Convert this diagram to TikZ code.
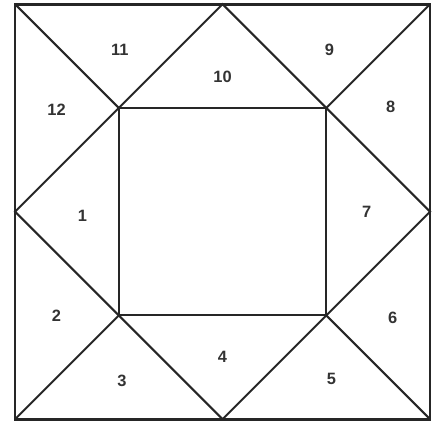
\documentclass[tikz,border=0pt]{standalone}
\usepackage{tikz}
\usepackage{fontspec}
\setsansfont{Liberation Sans}
\usetikzlibrary{calc}

\begin{document}
\begin{tikzpicture}[x=2cm,y=2cm,
    edge/.style={line width=1.1pt, black!85},
    frame/.style={line width=1.5pt, black!85},
    piece/.style={font=\sffamily\bfseries\small, black!80}]
    \useasboundingbox (-0.145,-0.03) rectangle (4.115,4.04);

    % Corners of the outer square and the inner square
    \coordinate (oBL) at (0,0);
    \coordinate (oBR) at (4,0);
    \coordinate (oTR) at (4,4);
    \coordinate (oTL) at (0,4);
    \coordinate (iBL) at (1,1);
    \coordinate (iBR) at (3,1);
    \coordinate (iTR) at (3,3);
    \coordinate (iTL) at (1,3);

    % Midpoints of the outer sides
    \coordinate (mB) at (2,0);
    \coordinate (mR) at (4,2);
    \coordinate (mT) at (2,4);
    \coordinate (mL) at (0,2);

    % Outer frame and centre square
    \draw[frame] (oBL) rectangle (oTR);
    \draw[edge] (iBL) rectangle (iTR);

    % Diagonals from outer corners
    \draw[edge] (oTL) -- (iTL);
    \draw[edge] (oTR) -- (iTR);
    \draw[edge] (oBR) -- (iBR);
    \draw[edge] (oBL) -- (iBL);

    % Triangles on the side midpoints
    \draw[edge] (iTL) -- (mT) -- (iTR);
    \draw[edge] (iTR) -- (mR) -- (iBR);
    \draw[edge] (iBR) -- (mB) -- (iBL);
    \draw[edge] (iBL) -- (mL) -- (iTL);

    % Piece numbers
    \foreach \n/\p in {1/{0.65,1.96}, 2/{0.40,1.00}, 3/{1.03,0.37},
                       4/{2.00,0.60}, 5/{3.05,0.39}, 6/{3.64,0.98},
                       7/{3.39,2.00}, 8/{3.62,3.01}, 9/{3.03,3.56},
                       10/{2.00,3.30}, 11/{1.01,3.56}, 12/{0.40,2.98}} {
        \node[piece] (p\n) at (\p) {\n};
    }
\end{tikzpicture}
\end{document}
